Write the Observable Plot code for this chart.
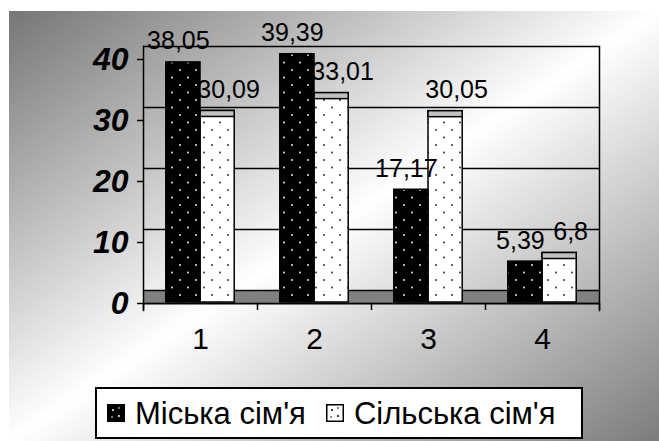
<!DOCTYPE html>
<html><head><meta charset="utf-8">
<script src="https://cdn.jsdelivr.net/npm/d3@7"></script>
<script src="https://cdn.jsdelivr.net/npm/@observablehq/plot@0.6"></script>
<style>
body{margin:0;background:#fff;}
#wrap{position:relative;width:659px;height:441px;overflow:hidden;background:#fff;font-family:"Liberation Sans",Arial,sans-serif;}
#bg{position:absolute;left:9px;top:11px;right:0;bottom:0;background:linear-gradient(to bottom right,#767676 0%,#ffffff 50%,#7c7c7c 100%);}
#chart{position:absolute;left:0;top:0;}
#legend{position:absolute;left:95px;top:387px;width:488px;height:52px;box-sizing:border-box;border:2px solid #000;background:#fff;display:flex;align-items:center;padding-left:10px;}
.item{display:flex;align-items:center;font-size:31px;line-height:1;color:#000;}
.sw{width:18px;height:18px;margin-right:10px;display:block;}
</style></head>
<body>
<div id="wrap"><div id="bg"></div><div id="chart"></div><div id="legend"></div></div>
<script>
const categories = [1, 2, 3, 4];
const urban = [38.05, 39.39, 17.17, 5.39];
const rural = [30.09, 33.01, 30.05, 6.8];
const seriesNames = ["Міська сім'я", "Сільська сім'я"];
const yTicks = [0, 10, 20, 30, 40];
const xBounds = [0.5, 1.5, 2.5, 3.5, 4.5];

const rows = categories.map((c, i) => ({c, urban: urban[i], rural: rural[i]}));
const fmt = v => String(v).replace(".", ",");

const defs = () => {
  const d = d3.create("svg:defs");
  const mk = (id, bg, fg) => {
    const p = d.append("pattern").attr("id", id).attr("patternUnits", "userSpaceOnUse")
      .attr("width", 16).attr("height", 15);
    p.append("rect").attr("width", 16).attr("height", 15).attr("fill", bg);
    p.append("circle").attr("cx", 4).attr("cy", 4).attr("r", 0.9).attr("fill", fg);
    p.append("circle").attr("cx", 12).attr("cy", 11.5).attr("r", 0.9).attr("fill", fg);
  };
  mk("dotsOnBlack", "#000", "#fff");
  mk("dotsOnWhite", "#fff", "#222");
  return d.node();
};

const BACK = -13, LIFT = -9;
const plot = Plot.plot({
  width: 659, height: 380,
  marginLeft: 143, marginRight: 60, marginTop: 59, marginBottom: 77,
  style: {fontFamily: '"Liberation Sans", Arial, sans-serif', background: "transparent", overflow: "visible"},
  x: {type: "linear", domain: [0.5, 4.5]},
  y: {domain: [0, 40]},
  marks: [
    defs,
    Plot.ruleY([0], {dy: -7, strokeWidth: 12, stroke: "#808080"}),
    Plot.ruleY(yTicks, {dy: BACK, stroke: "#000", strokeWidth: 1.5}),
    Plot.frame({anchor: "left", insetTop: BACK, insetBottom: -7, stroke: "#000", strokeWidth: 1.5}),
    Plot.frame({anchor: "right", insetTop: BACK, insetBottom: -7, stroke: "#000", strokeWidth: 1.5}),
    Plot.ruleY([0], {stroke: "#000", strokeWidth: 2}),
    Plot.ruleX(xBounds, {y1: 0, y2: 0, insetBottom: -7, stroke: "#000", strokeWidth: 1.5}),
    Plot.rect(rows, {x1: d => d.c, x2: d => d.c + 0.3, y1: 0, y2: "rural", dy: LIFT, insetBottom: -8,
      fill: "url(#dotsOnWhite)", stroke: "#000", strokeWidth: 1.5}),
    Plot.rect(rows, {x1: d => d.c, x2: d => d.c + 0.3, y1: "rural", y2: "rural", dy: LIFT, insetBottom: -6,
      fill: "#c0c0c0", stroke: "#000", strokeWidth: 1.5}),
    Plot.rect(rows, {x1: d => d.c - 0.3, x2: d => d.c, y1: 0, y2: "urban", dy: LIFT, insetBottom: -8,
      fill: "url(#dotsOnBlack)", stroke: "#000", strokeWidth: 1.5}),
    Plot.text(rows, {x: d => d.c - 0.15, y: "urban", text: d => fmt(d.urban), dx: -5, dy: -22,
      lineAnchor: "bottom", fontSize: 25, fill: "#000"}),
    Plot.text(rows, {x: d => d.c + 0.15, y: "rural", text: d => fmt(d.rural), dx: 11, dy: -22,
      lineAnchor: "bottom", fontSize: 25, fill: "#000"}),
    Plot.axisY({ticks: yTicks, tickSize: 6, tickPadding: 9, fontSize: 32, fontWeight: "bold", fontStyle: "italic",
      tickFormat: d => String(d), stroke: "#000", strokeWidth: 1.5, fill: "#000"}),
    Plot.axisX({ticks: categories, tickSize: 0, tickPadding: 24, fontSize: 30, tickFormat: d => String(d), fill: "#000"})
  ]
});
document.getElementById("chart").appendChild(plot);

const legend = document.getElementById("legend");
const swatch = (bg, fg, border) =>
  `<svg class="sw" viewBox="0 0 18 18"><rect x="0.75" y="0.75" width="16.5" height="16.5" fill="${bg}" stroke="#000" stroke-width="${border}"/>` +
  `<circle cx="6" cy="6" r="1" fill="${fg}"/><circle cx="12" cy="12" r="1" fill="${fg}"/><circle cx="12" cy="4" r="0.8" fill="${fg}"/><circle cx="5" cy="13" r="0.8" fill="${fg}"/></svg>`;
legend.innerHTML =
  `<div class="item">${swatch("#000", "#fff", 1.5)}<span>${seriesNames[0]}</span></div>` +
  `<div class="item" style="margin-left:20px">${swatch("#fff", "#000", 1.5)}<span>${seriesNames[1]}</span></div>`;
</script>
</body></html>
